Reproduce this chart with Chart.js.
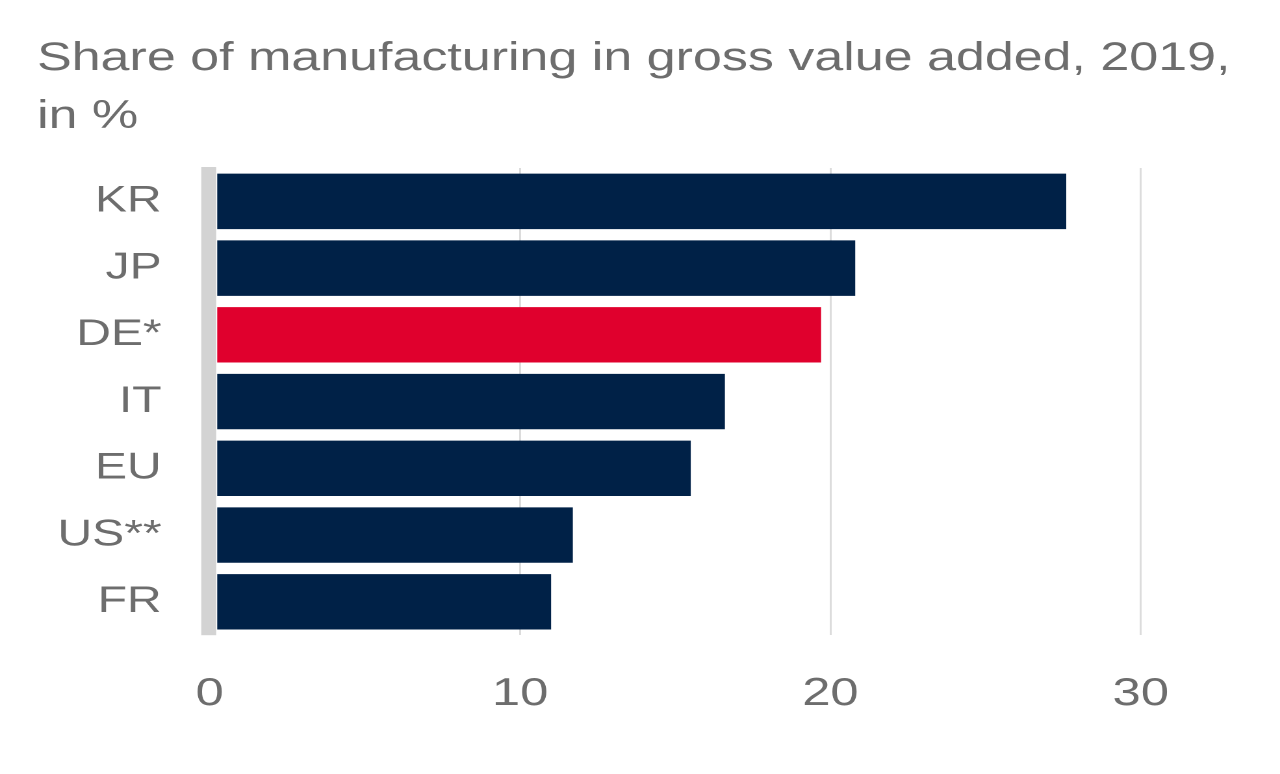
<!DOCTYPE html>
<html>
<head>
<meta charset="utf-8">
<script src="https://cdn.jsdelivr.net/npm/chart.js@4"></script>
<style>
  html, body { margin: 0; padding: 0; background: #ffffff; overflow: hidden; }
  #wrap { width: 985px; height: 774px; transform: scaleX(1.2995); transform-origin: 0 0; }
</style>
</head>
<body>
<div id="wrap"><canvas id="c"></canvas></div>
<script>
const titleLines = ["Share of manufacturing in gross value added, 2019,", "in %"];
const categories = ["KR", "JP", "DE*", "IT", "EU", "US**", "FR"];
const shares = [27.6, 20.8, 19.7, 16.6, 15.5, 11.7, 11.0];
const xTickValues = [0, 10, 20, 30];
const highlighted = "DE*";

const TEXT = "#6d6d6d";
const NAVY = "#002147";
const RED = "#e0002d";

// thick grey zero line drawn over the bar bases
const zeroBand = {
  id: "zeroBand",
  afterDatasetsDraw(chart) {
    const { ctx, chartArea, scales } = chart;
    const x0 = scales.x.getPixelForValue(0);
    const w = 11.5;
    ctx.save();
    ctx.fillStyle = "#ffffff";
    ctx.fillRect(x0 - w / 2 - 0.8, chartArea.top, w + 0.8, chartArea.bottom - chartArea.top);
    ctx.fillStyle = "#d3d3d3";
    ctx.fillRect(x0 - w / 2 - 0.8, chartArea.top - 1, w, chartArea.bottom - chartArea.top + 1);
    ctx.restore();
  }
};

new Chart(document.getElementById("c"), {
  type: "bar",
  data: {
    labels: categories,
    datasets: [{
      data: shares,
      backgroundColor: (ctx) => categories[ctx.dataIndex] === highlighted ? RED : NAVY,
      borderWidth: 0,
      categoryPercentage: 1,
      barPercentage: 0.83
    }]
  },
  plugins: [zeroBand],
  options: {
    indexAxis: "y",
    responsive: true,
    maintainAspectRatio: false,
    animation: false,
    devicePixelRatio: 2,
    layout: { padding: { left: 28.5, right: 23.6, top: 0, bottom: 21 } },
    plugins: {
      legend: { display: false },
      tooltip: { enabled: false },
      title: {
        display: true,
        text: titleLines,
        align: "start",
        color: TEXT,
        font: { family: "'Liberation Sans', Arial, sans-serif", size: 40, weight: "normal", lineHeight: 1.45 },
        padding: { top: 30, bottom: 22 }
      }
    },
    scales: {
      x: {
        min: 0,
        max: 33.5,
        afterBuildTicks: (scale) => { scale.ticks = xTickValues.map(v => ({ value: v })); },
        grid: { display: true, color: "#dcdcdc", lineWidth: 1.5, drawTicks: false },
        border: { display: false },
        ticks: {
          color: TEXT,
          padding: 35.5,
          font: { family: "'Liberation Sans', Arial, sans-serif", size: 39 },
          maxRotation: 0
        }
      },
      y: {
        afterFit: (scale) => { scale.width = 132.9; },
        grid: { display: false, drawTicks: false },
        border: { display: false },
        ticks: {
          color: TEXT,
          padding: 37,
          font: { family: "'Liberation Sans', Arial, sans-serif", size: 37 }
        }
      }
    }
  }
});
</script>
</body>
</html>
